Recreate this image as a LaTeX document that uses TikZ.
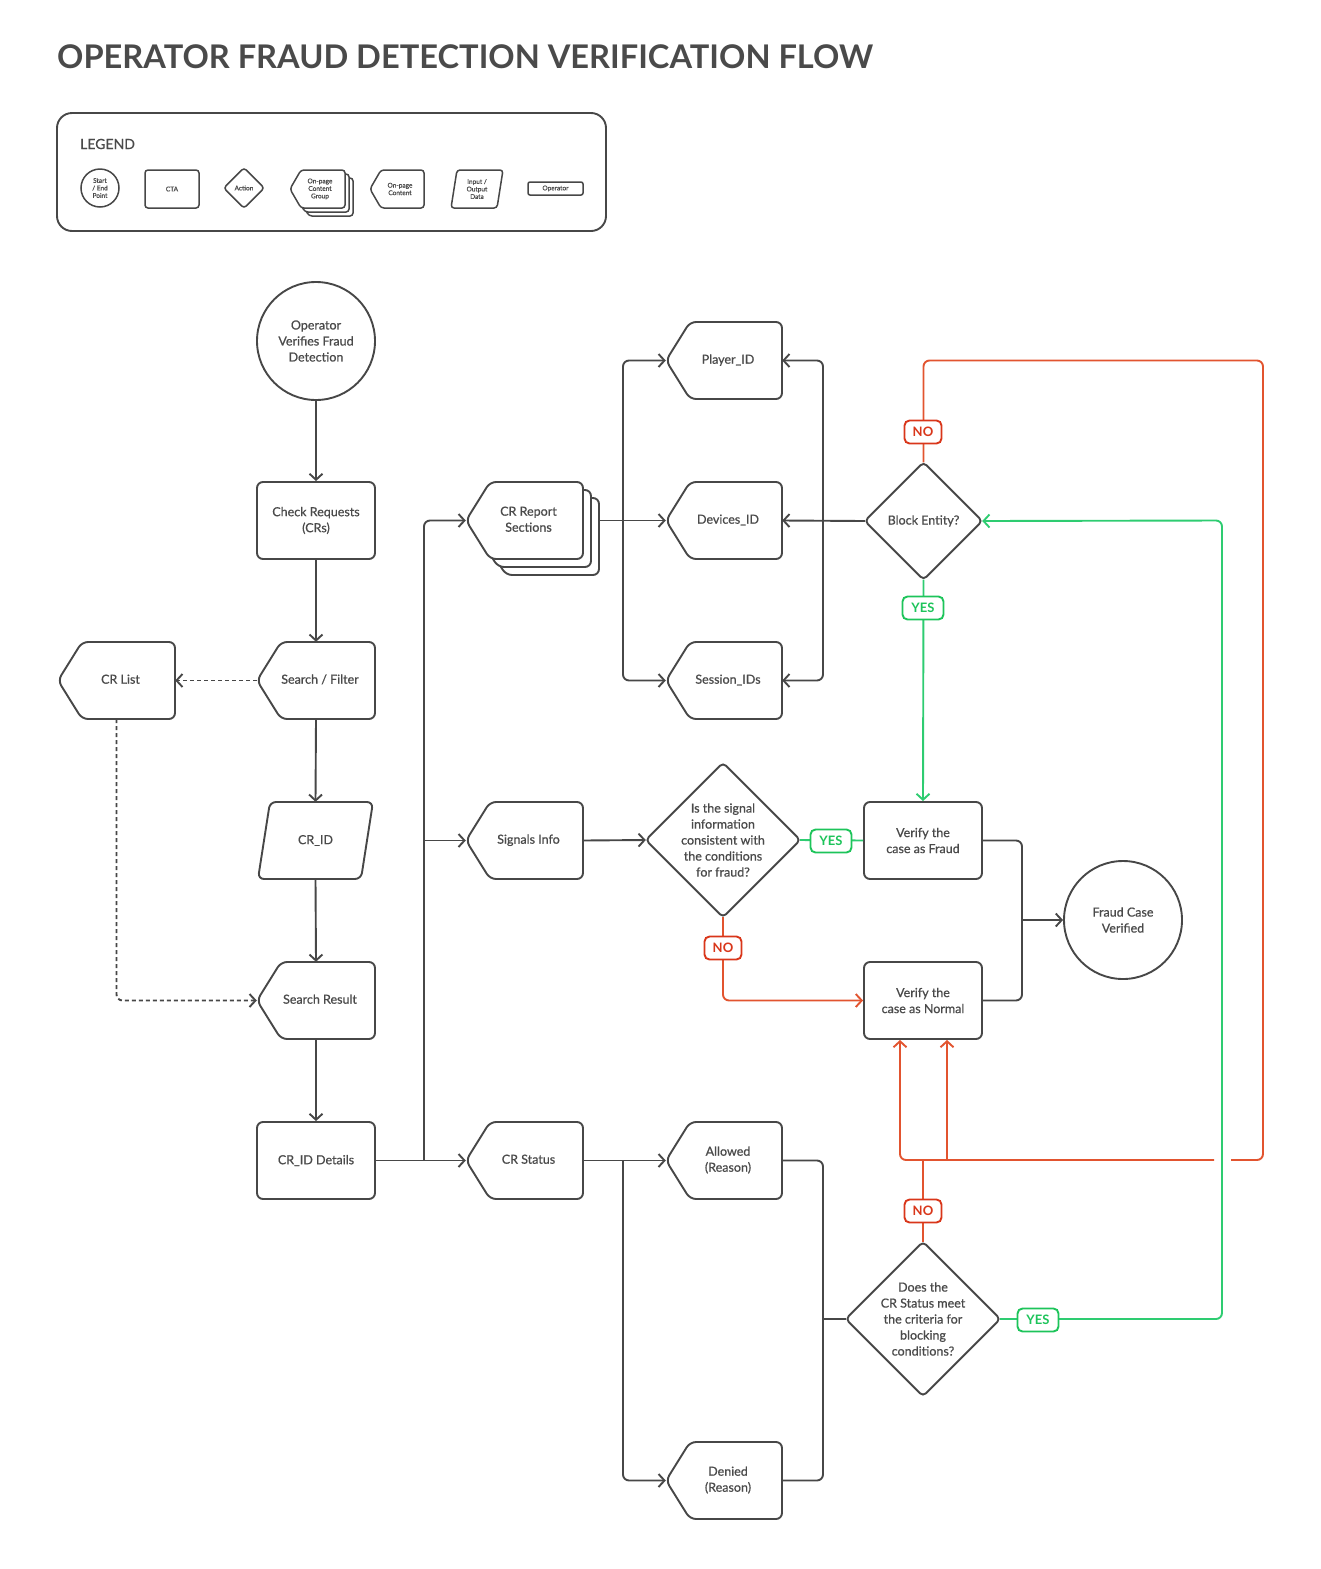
\documentclass[tikz,border=0pt]{standalone}
\usepackage{fontspec}
\setmainfont{Lato}
\newfontfamily\medf{Lato}[FakeBold=0.7]
\usetikzlibrary{arrows.meta}
\definecolor{ink}{HTML}{474747}
\definecolor{txtc}{HTML}{4A4A4A}
\definecolor{redln}{HTML}{E2542F}
\definecolor{redlb}{HTML}{D9361A}
\definecolor{grnln}{HTML}{2ECC71}
\definecolor{grnlb}{HTML}{1DC45A}
\newcommand\opshape[5][]{\draw[shp,#1] (#2+24,#3) -- (#2+#4,#3) -- (#2+#4,#3+#5) -- (#2+24,#3+#5) -- (#2,#3+#5/2) -- cycle;}
\newcommand\lgshape[5][]{\draw[lshp,#1] (#2+11,#3) -- (#2+#4,#3) -- (#2+#4,#3+#5) -- (#2+11,#3+#5) -- (#2,#3+#5/2) -- cycle;}
\newcommand\rs[1]{\hspace*{8pt}\begin{tabular}{@{}c@{}}#1\end{tabular}}
\begin{document}
\begin{tikzpicture}[x=1pt,y=-1pt,
  txt/.style={text=txtc,font=\medf\fontsize{12.5}{16}\selectfont,align=center,inner sep=0pt},
  shp/.style={draw=ink,line width=1.9pt,rounded corners=6pt},
  lshp/.style={draw=ink,line width=1.5pt,rounded corners=3pt},
  box/.style={txt,draw=ink,line width=1.9pt,rounded corners=6pt,minimum width=118pt,minimum height=77pt},
  area/.style={txt,minimum width=117pt,minimum height=77pt},
  con/.style={draw=ink,line width=1.9pt,rounded corners=6pt},
  redc/.style={draw=redln,line width=1.9pt,rounded corners=6pt},
  grnc/.style={draw=grnln,line width=1.9pt,rounded corners=6pt},
  arr/.style={-{Straight Barb[length=6pt,width=13pt,line width=1.9pt]}},
  lab/.style={rounded corners=5pt,fill=white,line width=1.9pt,font=\fontsize{13}{14}\selectfont\bfseries,inner xsep=5pt,inner ysep=0pt,minimum height=23pt},
  nolab/.style={lab,draw=redlb,text=redlb,minimum width=37pt},
  yeslab/.style={lab,draw=grnlb,text=grnlb,minimum width=41pt},
  tiny/.style={text=txtc,font=\medf\fontsize{6.5}{7.5}\selectfont,align=center,inner sep=0pt}
]
\useasboundingbox (0,0) rectangle (1320,1569);

% Title
\node[anchor=base west,inner sep=0pt,text=txtc,font=\fontsize{32.6}{36}\selectfont\bfseries] (title) at (57,68) {OPERATOR FRAUD DETECTION VERIFICATION FLOW};

% Legend
\draw[draw=ink,line width=1.9pt,rounded corners=15pt] (57,113) rectangle (606,231);
\node[anchor=west,inner sep=0pt,text=txtc,font=\medf\fontsize{14}{16}\selectfont] (legt) at (80,144) {LEGEND};
\node[tiny,circle,draw=ink,line width=1.5pt,minimum size=38pt] (lg1) at (100,188) {Start\\/ End\\Point};
\node[tiny,draw=ink,line width=1.5pt,rounded corners=3pt,minimum width=54pt,minimum height=38pt] (lg2) at (172,189) {CTA};
\node[tiny,minimum width=40pt,minimum height=40pt] (lg3) at (244,188) {Action};
\draw[lshp] (lg3.north) -- (lg3.east) -- (lg3.south) -- (lg3.west) -- cycle;
\lgshape[fill=white]{298}{178}{55}{38}
\lgshape[fill=white]{294}{174}{55}{38}
\lgshape[fill=white]{290}{170}{55}{38}
\node[tiny,minimum width=55pt,minimum height=38pt] (lg4) at (320,189) {On-page\\Content\\Group};
\lgshape{370}{170}{54}{38}
\node[tiny,minimum width=54pt,minimum height=38pt] (lg5) at (400,189) {On-page\\Content};
\draw[lshp] (457,170) -- (503,170) -- (497,208) -- (451,208) -- cycle;
\node[tiny,minimum width=52pt,minimum height=38pt] (lg6) at (477,189) {Input /\\Output\\Data};
\node[tiny,draw=ink,line width=1.5pt,rounded corners=2pt,minimum width=55pt,minimum height=13pt] (lg7) at (555.5,188.5) {Operator};

% Left column
\node[txt,circle,draw=ink,line width=1.9pt,minimum size=118pt] (start) at (316,341) {Operator\\Verifies Fraud\\Detection};
\node[box] (chk) at (316,520.5) {Check Requests\\(CRs)};
\opshape{257}{642}{118}{77}
\node[area,minimum width=118pt] (sf) at (316,680.5) {\rs{Search / Filter}};
\opshape{58}{642}{117}{77}
\node[area] (crl) at (116.5,680.5) {\rs{CR List}};
\draw[shp] (270,802) -- (373,802) -- (361,879) -- (258,879) -- cycle;
\node[area,minimum width=115pt] (crid) at (315.5,840.5) {CR\_ID};
\opshape{257}{962}{118}{77}
\node[area,minimum width=118pt] (sr) at (316,1000.5) {\rs{Search Result}};
\node[box] (crd) at (316,1160.5) {CR\_ID Details};

% Middle column
\opshape[fill=white]{482}{498}{117}{77}
\opshape[fill=white]{474}{490}{117}{77}
\opshape[fill=white]{466}{482}{117}{77}
\node[area] (crr) at (524.5,520.5) {\rs{CR Report\\Sections}};
\opshape{466}{802}{117}{77}
\node[area] (sig) at (524.5,840.5) {\rs{Signals Info}};
\opshape{466}{1122}{117}{77}
\node[area] (crs) at (524.5,1160.5) {\rs{CR Status}};

% ID column
\opshape{666}{322}{116}{77}
\node[area,minimum width=116pt] (pid) at (724,360.5) {\rs{Player\_ID}};
\opshape{666}{482}{116}{77}
\node[area,minimum width=116pt] (dev) at (724,520.5) {\rs{Devices\_ID}};
\opshape{666}{642}{116}{77}
\node[area,minimum width=116pt] (ses) at (724,680.5) {\rs{Session\_IDs}};
\opshape{666}{1122}{116}{77}
\node[area,minimum width=116pt] (alw) at (724,1160.5) {\rs{Allowed\\(Reason)}};
\opshape{666}{1442}{116}{77}
\node[area,minimum width=116pt] (den) at (724,1480.5) {\rs{Denied\\(Reason)}};

% Decisions
\node[txt,minimum width=117pt,minimum height=117pt] (blk) at (923.5,521) {Block Entity?};
\draw[shp,rounded corners=4pt] (blk.north) -- (blk.east) -- (blk.south) -- (blk.west) -- cycle;
\node[txt,minimum width=154pt,minimum height=154pt] (sq) at (723,840) {Is the signal\\information\\consistent with\\the conditions\\for fraud?};
\draw[shp,rounded corners=4pt] (sq.north) -- (sq.east) -- (sq.south) -- (sq.west) -- cycle;
\node[txt,minimum width=154pt,minimum height=154pt] (crq) at (923,1319) {Does the\\CR Status meet\\the criteria for\\blocking\\conditions?};
\draw[shp,rounded corners=4pt] (crq.north) -- (crq.east) -- (crq.south) -- (crq.west) -- cycle;

% Right
\node[box] (vf) at (923,840.5) {Verify the\\case as Fraud};
\node[box] (vn) at (923,1000.5) {Verify the\\case as Normal};
\node[txt,circle,draw=ink,line width=1.9pt,minimum size=118pt] (fcv) at (1123,920) {Fraud Case\\Verified};

% Coordinates
\coordinate (bx) at (424,1160.5);
\coordinate (bx2) at (424,840.5);
\coordinate (crrb) at (599,520.5);
\coordinate (sx) at (623,520.5);
\coordinate (bxr) at (823,520.5);
\coordinate (sx2) at (623,1160.5);
\coordinate (jx) at (823,1319);
\coordinate (fj) at (1022,920);
\coordinate (rtop) at (1263,360.5);
\coordinate (rbot) at (1263,1160);
\coordinate (gapR) at (1231,1160);
\coordinate (gapL) at (1214,1160);
\coordinate (jn) at (923,1160);
\coordinate (c947) at (947,1160);
\coordinate (gr) at (1222,520.5);

% Grey connectors
\draw[con,arr] (start.south) -- (chk.north);
\draw[con,arr] (chk.south) -- (sf.north);
\draw[con,arr,dash pattern=on 4pt off 3pt] (sf.west) -- (crl.east);
\draw[con,arr,dash pattern=on 4pt off 3pt] (crl.south) |- (sr.west);
\draw[con,arr] (sf.south) -- (crid.north);
\draw[con,arr] (crid.south) -- (sr.north);
\draw[con,arr] (sr.south) -- (crd.north);
\draw[con,arr] (crd.east) -- (crs.west);
\draw[con,arr] (bx) |- (crr.west);
\draw[con,arr] (bx2) -- (sig.west);
\draw[con,arr] (crrb) -- (dev.west);
\draw[con,arr] (sx) |- (pid.west);
\draw[con,arr] (sx) |- (ses.west);
\draw[con,arr] (blk.west) -- (dev.east);
\draw[con,arr] (bxr) |- (pid.east);
\draw[con,arr] (bxr) |- (ses.east);
\draw[con,arr] (sig.east) -- (sq.west);
\draw[con] (vf.east) -| (fj);
\draw[con] (vn.east) -| (fj);
\draw[con,arr] (fj) -- (fcv.west);
\draw[con,arr] (crs.east) -- (alw.west);
\draw[con,arr] (sx2) |- (den.west);
\draw[con] (alw.east) -| (jx);
\draw[con] (den.east) -| (jx);
\draw[con] (jx) -- (crq.west);

% Red connectors
\draw[redc] (blk.north) |- (rtop) -- (rbot) -- (gapR);
\draw[redc,arr] (gapL) -| ([xshift=-23pt]vn.south);
\draw[redc,arr] (c947) -- ([xshift=24pt]vn.south);
\draw[redc] (crq.north) -- (jn);
\draw[redc,arr] (sq.south) |- (vn.west);

% Green connectors
\draw[grnc,arr] (blk.south) -- (vf.north);
\draw[grnc,arr] (crq.east) -| (gr) -- (blk.east);
\draw[grnc] (sq.east) -- (vf.west);

% Labels
\node[nolab] (no1) at (923,432) {NO};
\node[yeslab] (yes1) at (923,608) {YES};
\node[yeslab] (yes2) at (831,841) {YES};
\node[nolab] (no2) at (723,948) {NO};
\node[nolab] (no3) at (923,1211) {NO};
\node[yeslab] (yes3) at (1038,1320) {YES};
\end{tikzpicture}
\end{document}
